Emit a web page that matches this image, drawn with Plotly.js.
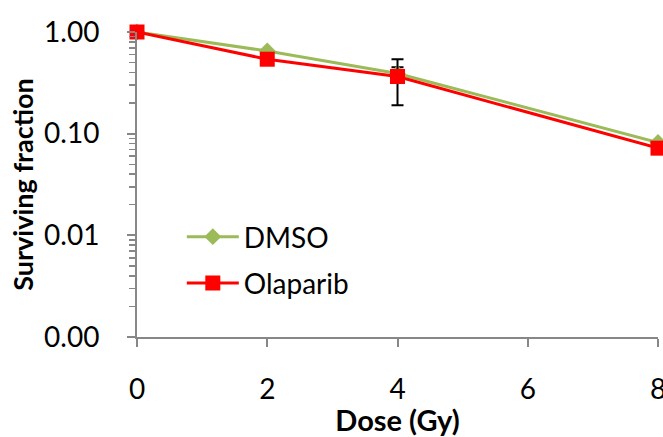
<!DOCTYPE html>
<html>
<head>
<meta charset="utf-8">
<script src="https://cdn.plot.ly/plotly-3.0.1.min.js"></script>
<style>html,body{margin:0;padding:0;background:#fff;}#chart{width:663px;height:437px;}</style>
</head>
<body>
<div id="chart"></div>
<script>
var dose = [0, 2, 4, 8];
var dmso = [1.0, 0.65, 0.39, 0.082];
var dmsoErrPlus = [0, 0, 0.06, 0];
var dmsoErrMinus = [0, 0, 0.06, 0];
var olaparib = [1.0, 0.54, 0.365, 0.072];
var olapErrPlus = [0, 0, 0.175, 0];
var olapErrMinus = [0, 0, 0.175, 0];
var xTicks = [0, 2, 4, 6, 8];
var yTicks = [0.001, 0.01, 0.1, 1];
var yTickLabels = ['0.00', '0.01', '0.10', '1.00'];

var font = 'Lato, "Open Sans", sans-serif';
var axisColor = '#878787';

var traces = [
  {
    x: dose, y: dmso, name: 'DMSO', type: 'scatter', mode: 'lines+markers',
    legendgroup: 'a',
    line: {color: '#9BBB59', width: 3},
    marker: {symbol: 'diamond', size: 13, color: '#9BBB59'},
    error_y: {type: 'data', symmetric: false, array: dmsoErrPlus, arrayminus: dmsoErrMinus, color: '#000', thickness: 2, width: 6},
    cliponaxis: false
  },
  {
    x: dose, y: olaparib, name: 'Olaparib', type: 'scatter', mode: 'lines+markers',
    legendgroup: 'b',
    line: {color: '#FF0000', width: 3},
    marker: {symbol: 'square', size: 15, color: '#FF0000'},
    error_y: {type: 'data', symmetric: false, array: olapErrPlus, arrayminus: olapErrMinus, color: '#000', thickness: 2, width: 6},
    cliponaxis: false
  }
];

var layout = {
  width: 663, height: 437,
  margin: {l: 137, r: 5, t: 32, b: 100},
  paper_bgcolor: '#fff', plot_bgcolor: '#fff',
  showlegend: true,
  legend: {x: 0.086, y: 0.41, xanchor: 'left', yanchor: 'top', font: {family: font, size: 28, color: '#000'},
           bgcolor: 'rgba(0,0,0,0)', tracegroupgap: 7, itemwidth: 52},
  xaxis: {
    range: [0, 8], tickvals: xTicks, ticktext: xTicks.map(String),
    showgrid: false, zeroline: false, showline: true, linecolor: axisColor, linewidth: 2,
    ticks: 'outside', ticklen: 8, tickwidth: 2, tickcolor: axisColor,
    tickfont: {family: font, size: 28, color: '#000'}, ticklabelstandoff: 18,
    ticklabeloverflow: 'allow',
    title: {text: '<b>Dose (Gy)</b>', font: {family: font, size: 29, color: '#000'}, standoff: 6}
  },
  yaxis: {
    type: 'log', range: [-3, 0], tickvals: yTicks, ticktext: yTickLabels,
    showgrid: false, zeroline: false, showline: true, linecolor: axisColor, linewidth: 2,
    ticks: 'outside', ticklen: 8, tickwidth: 2, tickcolor: axisColor,
    minor: {ticks: 'outside', ticklen: 6, tickwidth: 1.5, tickcolor: axisColor, dtick: 'D1', showgrid: false},
    tickfont: {family: font, size: 28, color: '#000'}, ticklabelstandoff: 22,
    ticklabeloverflow: 'allow',
    title: {text: '<b>Surviving fraction</b>', font: {family: font, size: 27, color: '#000'}, standoff: 3}
  }
};

Plotly.newPlot('chart', traces, layout, {displayModeBar: false, staticPlot: true});
</script>
</body>
</html>
